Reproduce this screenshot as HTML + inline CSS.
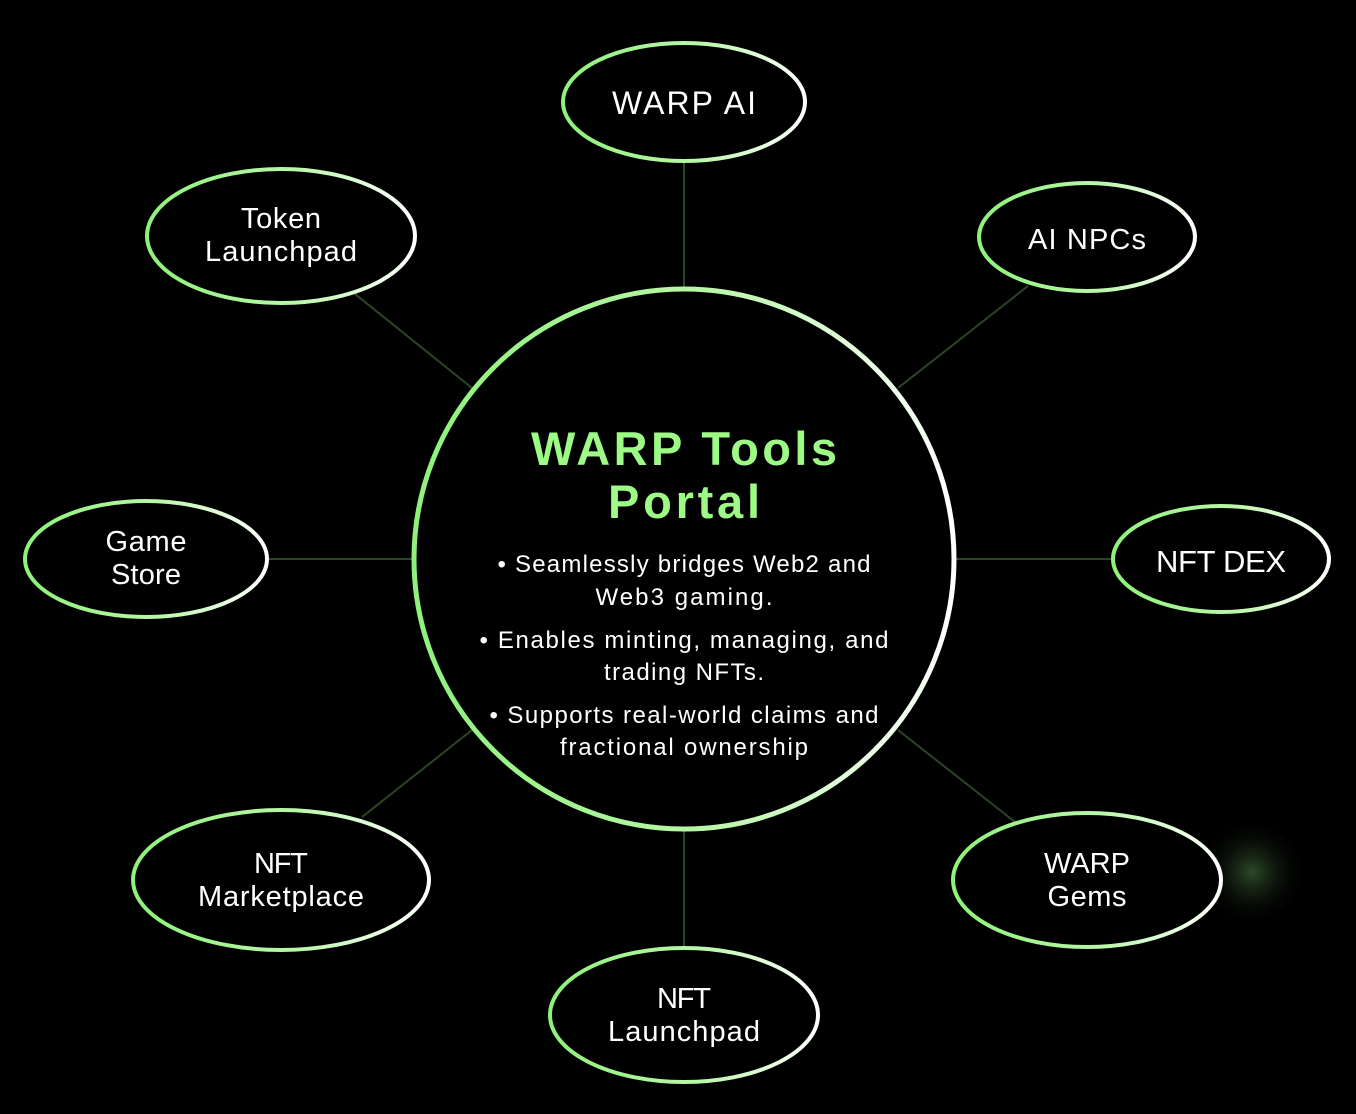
<!DOCTYPE html>
<html><head><meta charset="utf-8"><style>
html,body{margin:0;padding:0;background:#000;}
svg{display:block;}
text{font-family:"Liberation Sans",sans-serif;}
</style></head><body>
<svg width="1356" height="1114" viewBox="0 0 1356 1114" xmlns="http://www.w3.org/2000/svg">
<defs>
<linearGradient id="g" x1="0" y1="0" x2="1" y2="0">
<stop offset="0" stop-color="#8ef27a"/><stop offset="0.55" stop-color="#b9f7a8"/><stop offset="1" stop-color="#ffffff"/>
</linearGradient>
<radialGradient id="glow"><stop offset="0" stop-color="#2e4a28"/><stop offset="1" stop-color="#000" stop-opacity="0"/></radialGradient>
</defs>
<rect width="1356" height="1114" fill="#000"/>
<circle cx="1252" cy="872" r="55" fill="url(#glow)"/>
<g stroke="#2c4526" stroke-width="2">
<line x1="684" y1="162" x2="684" y2="288"/>
<line x1="684" y1="830" x2="684" y2="948"/>
<line x1="269" y1="559" x2="412" y2="559"/>
<line x1="956" y1="559" x2="1112" y2="559"/>
<line x1="355" y1="294" x2="472" y2="388"/>
<line x1="1028" y1="286" x2="898" y2="388"/>
<line x1="362" y1="817" x2="472" y2="730"/>
<line x1="1015" y1="822" x2="898" y2="730"/>
</g>
<g fill="#000" stroke="url(#g)" stroke-width="4">
<ellipse cx="684" cy="102" rx="121" ry="59"/>
<ellipse cx="281" cy="236" rx="134" ry="67"/>
<ellipse cx="1087" cy="237" rx="108" ry="54"/>
<ellipse cx="146" cy="559" rx="121" ry="58"/>
<ellipse cx="1221" cy="559" rx="108" ry="53"/>
<ellipse cx="281" cy="880" rx="148" ry="70"/>
<ellipse cx="1087" cy="880" rx="134" ry="67"/>
<ellipse cx="684" cy="1015" rx="134" ry="67"/>
<circle cx="684" cy="559" r="270" stroke-width="5"/>
</g>
<g fill="#fff" font-size="29" text-anchor="middle">
<text x="684" y="114" font-size="32" textLength="144">WARP AI</text>
<text x="281" y="228" textLength="80">Token</text><text x="281" y="261" textLength="152">Launchpad</text>
<text x="1087" y="249" textLength="118">AI NPCs</text>
<text x="146" y="551" textLength="81">Game</text><text x="146" y="584" textLength="70">Store</text>
<text x="1221" y="572" font-size="31" textLength="130">NFT DEX</text>
<text x="281" y="873" textLength="54">NFT</text><text x="281" y="906" textLength="166">Marketplace</text>
<text x="1087" y="873" textLength="86">WARP</text><text x="1087" y="906" textLength="79">Gems</text>
<text x="684" y="1008" textLength="54">NFT</text><text x="684" y="1041" textLength="152">Launchpad</text>
</g>
<g fill="#9cfa85" font-size="47" font-weight="bold" text-anchor="middle">
<text x="684" y="465" textLength="306">WARP Tools</text>
<text x="684" y="518" textLength="152">Portal</text>
</g>
<g fill="#fff" font-size="24" text-anchor="middle">
<text x="684" y="572" textLength="373">• Seamlessly bridges Web2 and</text>
<text x="684" y="605" textLength="177">Web3 gaming.</text>
<text x="684" y="648" textLength="409">• Enables minting, managing, and</text>
<text x="684" y="680" textLength="160">trading NFTs.</text>
<text x="684" y="723" textLength="389">• Supports real-world claims and</text>
<text x="684" y="755" textLength="248">fractional ownership</text>
</g>
</svg>
</body></html>
